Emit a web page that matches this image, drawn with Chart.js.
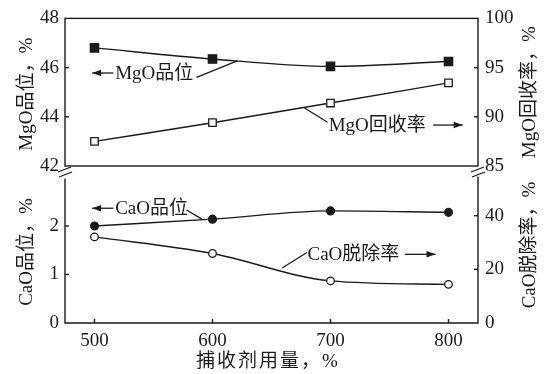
<!DOCTYPE html>
<html><head><meta charset="utf-8">
<script src="https://cdn.jsdelivr.net/npm/chart.js@4"></script>
<style>
html,body{margin:0;padding:0;background:#fff;}
#wrap{position:relative;width:555px;height:374px;overflow:hidden;background:#fff;}
canvas{position:absolute;left:0;}
#c1{top:0;width:555px;height:190px;}
#c2{top:160px;width:555px;height:214px;}
</style></head><body>
<div id="wrap">
<canvas id="c1" width="555" height="190"></canvas>
<canvas id="c2" width="555" height="214"></canvas>
</div>
<script>
const dosage = [500, 600, 700, 800];
const mgoGrade = [46.8, 46.35, 46.05, 46.25];
const mgoRecovery = [87.5, 89.4, 91.4, 93.45];
const caoGrade = [2.0, 2.14, 2.31, 2.28];
const caoRemoval = [32.1, 25.9, 15.7, 14.4];
const xTicks = [500, 600, 700, 800];
const mgoGradeTicks = [42, 44, 46, 48];
const mgoRecTicks = [85, 90, 95, 100];
const caoGradeTicks = [0, 1, 2];
const caoRemTicks = [0, 20, 40];

const INK = '#1a1a1a';
const FONT = '"Liberation Serif", "Noto Sans CJK SC", serif';
const tickFont = {family: FONT, size: 19};

function pts(ys){ return dosage.map((x,i)=>({x:x, y:ys[i]})); }
function setTicks(arr){ return s => { s.ticks = arr.map(v=>({value:v})); }; }

function line(ctx,x1,y1,x2,y2){ ctx.beginPath(); ctx.moveTo(x1,y1); ctx.lineTo(x2,y2); ctx.stroke(); }
function arrow(ctx,x1,y,x2){ // from x1 to tip x2
  line(ctx,x1,y,x2,y);
  const d = x2 > x1 ? -1 : 1;
  ctx.beginPath(); ctx.moveTo(x2,y); ctx.lineTo(x2+d*9,y-3.2); ctx.lineTo(x2+d*9,y+3.2); ctx.closePath(); ctx.fill();
}
function text(ctx,s,x,y,align){
  ctx.font = '19px ' + FONT; ctx.textAlign = align||'left'; ctx.textBaseline='middle';
  ctx.fillText(s,x,y);
}
function vtext(ctx,s,x,y){
  ctx.save(); ctx.translate(x,y); ctx.rotate(-Math.PI/2);
  ctx.font = '19px ' + FONT; ctx.textAlign='center'; ctx.textBaseline='middle';
  ctx.fillText(s,0,0); ctx.restore();
}

function baseScales(leftMin,leftMax,leftTicks,rightMin,rightMax,rightTicks,xDisplay){
  return {
    x: {type:'linear', min:475, max:825, display:xDisplay,
        afterBuildTicks: setTicks(xTicks),
        afterFit: s=>{ s.height = xDisplay ? 51 : 0; },
        grid:{display:false, drawTicks:false}, border:{display:false},
        ticks:{font:tickFont, color:INK, padding:7}},
    yL: {position:'left', min:leftMin, max:leftMax,
        afterBuildTicks: setTicks(leftTicks),
        afterFit: s=>{ s.width = 65; },
        grid:{display:false, drawTicks:false}, border:{display:false},
        ticks:{font:tickFont, color:INK, padding:6}},
    yR: {position:'right', min:rightMin, max:rightMax,
        afterBuildTicks: setTicks(rightTicks),
        afterFit: s=>{ s.width = 77; },
        grid:{display:false, drawTicks:false}, border:{display:false},
        ticks:{font:tickFont, color:INK, padding:7}}
  };
}

function ds(ys, axis, style, r, filled){
  return {data:pts(ys), yAxisID:axis, borderColor:INK, borderWidth:1.4,
    cubicInterpolationMode:'monotone', pointStyle:style, pointRadius:r,
    pointBackgroundColor: filled?INK:'#fff', pointBorderColor:INK, pointBorderWidth:1.3};
}

const common = {responsive:false, animation:false, events:[],
  plugins:{legend:{display:false}, tooltip:{enabled:false}}};

const topDeco = {id:'topDeco', afterDraw(chart){
  const ctx = chart.ctx, ca = chart.chartArea, X = chart.scales.x, L = chart.scales.yL, R = chart.scales.yR;
  ctx.save(); ctx.strokeStyle = INK; ctx.fillStyle = INK; ctx.lineWidth = 1.4;
  ctx.strokeRect(ca.left, ca.top, ca.right-ca.left, ca.bottom-ca.top);
  [44,46].forEach(v=>{ const y=L.getPixelForValue(v); line(ctx,ca.left,y,ca.left+4,y); });
  [90,95].forEach(v=>{ const y=R.getPixelForValue(v); line(ctx,ca.right-4,y,ca.right,y); });
  // break marks
  ctx.lineWidth = 1.3;
  line(ctx,ca.left-7,ca.bottom+6,ca.left+6,ca.bottom+1);
  line(ctx,ca.left-6,ca.bottom+11,ca.left+7,ca.bottom+6);
  line(ctx,ca.right-7,ca.bottom+6,ca.right+6,ca.bottom+1);
  line(ctx,ca.right-6,ca.bottom+11,ca.right+7,ca.bottom+6);
  ctx.lineWidth = 1.3;
  // MgO grade label
  const yA = L.getPixelForValue(45.78);
  arrow(ctx, X.getPixelForValue(516), yA, X.getPixelForValue(498));
  text(ctx,'MgO品位', X.getPixelForValue(517.5), yA+1);
  line(ctx, X.getPixelForValue(586.5), L.getPixelForValue(45.6), X.getPixelForValue(621), L.getPixelForValue(46.27));
  // MgO recovery label
  const yB = R.getPixelForValue(89.16);
  text(ctx,'MgO回收率', X.getPixelForValue(698.5), yB+1);
  arrow(ctx, X.getPixelForValue(787), yB, X.getPixelForValue(812));
  line(ctx, X.getPixelForValue(697.5), R.getPixelForValue(89.45), X.getPixelForValue(678), R.getPixelForValue(90.9));
  // titles
  const cy = (ca.top+ca.bottom)/2;
  vtext(ctx,'MgO品位，%', 27, cy+2);
  vtext(ctx,'MgO回收率，%', 530, cy);
  ctx.restore();
}};

const botDeco = {id:'botDeco', afterDraw(chart){
  const ctx = chart.ctx, ca = chart.chartArea, X = chart.scales.x, L = chart.scales.yL, R = chart.scales.yR;
  ctx.save(); ctx.strokeStyle = INK; ctx.fillStyle = INK; ctx.lineWidth = 1.4;
  ctx.beginPath(); ctx.moveTo(ca.left, ca.top); ctx.lineTo(ca.left, ca.bottom); ctx.lineTo(ca.right, ca.bottom); ctx.lineTo(ca.right, ca.top-2); ctx.stroke();
  xTicks.forEach(v=>{ const x=X.getPixelForValue(v); line(ctx,x,ca.bottom,x,ca.bottom-4); });
  [1,2].forEach(v=>{ const y=L.getPixelForValue(v); line(ctx,ca.left,y,ca.left+4,y); });
  [20,40].forEach(v=>{ const y=R.getPixelForValue(v); line(ctx,ca.right-4,y,ca.right,y); });
  ctx.lineWidth = 1.3;
  // CaO grade label
  const yA = L.getPixelForValue(2.365);
  arrow(ctx, X.getPixelForValue(516), yA, X.getPixelForValue(498));
  text(ctx,'CaO品位', X.getPixelForValue(517.5), yA+1);
  line(ctx, X.getPixelForValue(578), L.getPixelForValue(2.33), X.getPixelForValue(591), L.getPixelForValue(2.14));
  // CaO removal label
  const yB = R.getPixelForValue(25.6);
  text(ctx,'CaO脱除率', X.getPixelForValue(680.5), yB+1);
  arrow(ctx, X.getPixelForValue(763), yB, X.getPixelForValue(789));
  line(ctx, X.getPixelForValue(680), R.getPixelForValue(26.3), X.getPixelForValue(659), R.getPixelForValue(20.5));
  // titles
  vtext(ctx,'CaO品位，%', 27, 92);
  vtext(ctx,'CaO脱除率，%', 530, 85);
  ctx.save(); ctx.letterSpacing = '2px';
  text(ctx,'捕收剂用量，%', 268, 202, 'center');
  ctx.restore();
  ctx.restore();
}};

new Chart(document.getElementById('c1'), {
  type:'line',
  data:{datasets:[ds(mgoGrade,'yL','rect',5.9,true), ds(mgoRecovery,'yR','rect',5.3,false)]},
  options:Object.assign({}, common, {
    layout:{padding:{top:18,bottom:24,left:0,right:0}},
    scales: baseScales(42,48,mgoGradeTicks,85,100,mgoRecTicks,false)
  }),
  plugins:[topDeco]
});

new Chart(document.getElementById('c2'), {
  type:'line',
  data:{datasets:[ds(caoGrade,'yL','circle',3.9,true), ds(caoRemoval,'yR','circle',3.8,false)]},
  options:Object.assign({}, common, {
    layout:{padding:{top:15,bottom:0,left:0,right:0}},
    scales: baseScales(0,2.98,caoGradeTicks,0,53.9,caoRemTicks,true)
  }),
  plugins:[botDeco]
});
</script>
</body></html>
